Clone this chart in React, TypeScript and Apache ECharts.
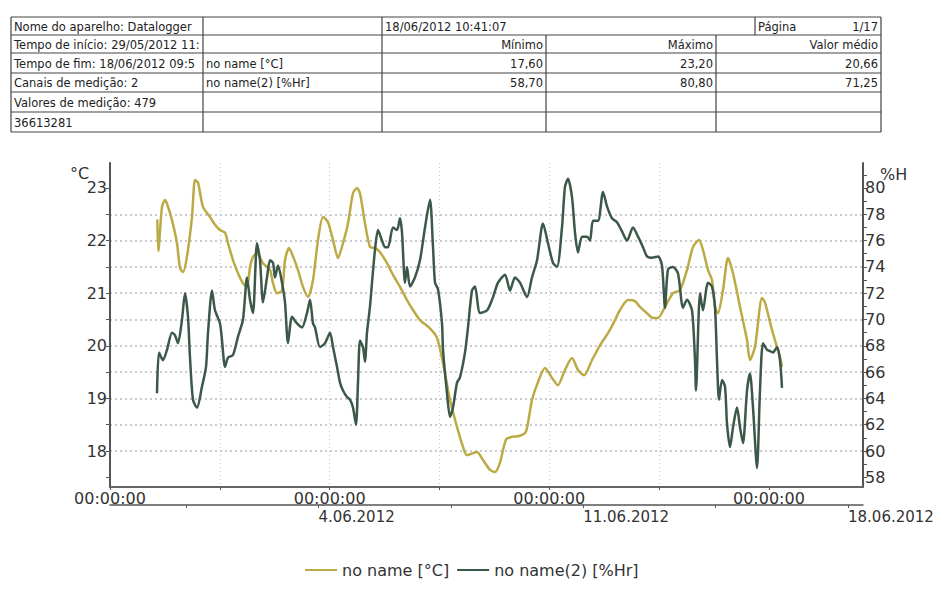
import React, { useEffect, useRef } from 'react';
import * as echarts from 'echarts';

// x values: days since 28.05.2012 00:00
const tempDays = [1.508, 1.54, 1.657, 1.753, 1.817, 1.976, 2.135, 2.231, 2.327, 2.454, 2.614, 2.709, 2.805, 2.964, 3.187, 3.347, 3.506, 3.665, 3.761, 3.92, 4.08, 4.239, 4.367, 4.462, 4.558, 4.685, 4.876, 5.1, 5.195, 5.323, 5.482, 5.578, 5.705, 5.833, 5.992, 6.151, 6.311, 6.47, 6.629, 6.789, 6.948, 7.108, 7.267, 7.426, 7.586, 7.745, 7.873, 7.968, 8.127, 8.287, 8.446, 8.606, 8.829, 9.02, 9.243, 9.466, 9.657, 9.88, 10.199, 10.422, 10.614, 10.837, 11.06, 11.251, 11.378, 11.697, 11.888, 12.112, 12.271, 12.43, 12.622, 12.813, 13.068, 13.259, 13.45, 13.641, 13.865, 14.088, 14.279, 14.47, 14.725, 14.916, 15.108, 15.363, 15.618, 15.873, 16.064, 16.255, 16.51, 16.733, 16.892, 17.116, 17.307, 17.466, 17.689, 17.944, 18.167, 18.39, 18.582, 18.773, 18.9, 19.06, 19.187, 19.283, 19.378, 19.538, 19.697, 19.857, 20.08, 20.303, 20.398, 20.558, 20.781, 20.876, 21.1, 21.259, 21.355, 21.418];
const tempValues = [22.4, 21.8, 22.64, 22.77, 22.7, 22.39, 21.95, 21.48, 21.4, 21.7, 22.45, 23.15, 23.1, 22.64, 22.45, 22.3, 22.2, 22.15, 21.95, 21.63, 21.38, 21.19, 21.12, 21.5, 21.69, 21.76, 21.57, 21.44, 21.19, 21.0, 21.05, 21.63, 21.86, 21.7, 21.44, 21.12, 20.93, 21.25, 22.01, 22.45, 22.35, 22.01, 21.67, 21.95, 22.33, 22.9, 23.0, 22.9, 22.33, 21.88, 21.86, 21.78, 21.57, 21.35, 21.12, 20.87, 20.68, 20.49, 20.33, 20.15, 19.67, 18.97, 18.46, 18.08, 17.92, 17.98, 17.83, 17.64, 17.6, 17.78, 18.22, 18.27, 18.29, 18.37, 18.97, 19.31, 19.58, 19.39, 19.25, 19.5, 19.77, 19.54, 19.44, 19.73, 20.01, 20.24, 20.45, 20.68, 20.87, 20.85, 20.74, 20.62, 20.53, 20.53, 20.74, 21.0, 21.06, 21.44, 21.88, 22.01, 21.82, 21.44, 21.25, 20.74, 20.62, 21.06, 21.67, 21.38, 20.74, 20.11, 19.73, 19.98, 20.91, 20.82, 20.3, 19.98, 19.79, 19.6];

const humDays = [1.498, 1.562, 1.689, 1.817, 1.976, 2.072, 2.167, 2.295, 2.39, 2.486, 2.55, 2.645, 2.773, 2.932, 3.06, 3.124, 3.251, 3.347, 3.506, 3.57, 3.665, 3.761, 3.92, 4.08, 4.239, 4.367, 4.462, 4.558, 4.685, 4.781, 4.876, 5.004, 5.1, 5.195, 5.259, 5.355, 5.482, 5.578, 5.673, 5.801, 5.96, 6.12, 6.279, 6.375, 6.47, 6.534, 6.693, 6.853, 7.012, 7.108, 7.235, 7.331, 7.426, 7.554, 7.649, 7.745, 7.841, 7.904, 7.968, 8.064, 8.127, 8.191, 8.287, 8.351, 8.446, 8.542, 8.669, 8.765, 8.861, 9.02, 9.147, 9.243, 9.307, 9.402, 9.466, 9.562, 9.721, 9.88, 10.04, 10.199, 10.295, 10.359, 10.454, 10.582, 10.614, 10.741, 10.837, 10.932, 11.06, 11.155, 11.315, 11.41, 11.538, 11.633, 11.793, 12.02, 12.207, 12.367, 12.59, 12.749, 12.908, 13.068, 13.291, 13.45, 13.61, 13.801, 13.96, 14.12, 14.247, 14.406, 14.502, 14.598, 14.725, 14.821, 14.916, 15.044, 15.203, 15.299, 15.394, 15.554, 15.713, 15.841, 16.0, 16.159, 16.319, 16.478, 16.669, 16.829, 16.988, 17.116, 17.275, 17.466, 17.594, 17.689, 17.785, 17.944, 18.104, 18.263, 18.39, 18.55, 18.645, 18.677, 18.805, 18.9, 19.06, 19.187, 19.283, 19.347, 19.41, 19.506, 19.602, 19.665, 19.761, 19.857, 19.984, 20.08, 20.175, 20.303, 20.398, 20.494, 20.622, 20.717, 20.813, 20.94, 21.036, 21.131, 21.259, 21.355, 21.418];
const humValues = [64.4, 67.5, 66.9, 67.7, 69.0, 68.8, 68.2, 70.0, 72.0, 70.2, 67.1, 63.9, 63.3, 64.9, 66.4, 69.0, 72.2, 70.7, 69.7, 68.4, 66.4, 67.1, 67.3, 68.7, 70.0, 73.2, 71.5, 70.5, 75.8, 74.5, 71.3, 73.2, 74.5, 74.3, 73.2, 74.1, 72.8, 71.3, 68.2, 70.2, 69.7, 69.4, 70.5, 71.5, 69.7, 69.4, 67.9, 68.2, 69.0, 67.9, 66.4, 65.2, 64.6, 64.1, 63.9, 63.3, 62.0, 65.2, 68.4, 67.9, 66.8, 69.0, 71.0, 72.8, 75.3, 76.8, 76.0, 75.5, 75.5, 77.0, 76.8, 77.7, 76.6, 72.8, 74.0, 72.5, 73.2, 74.5, 77.0, 79.1, 75.5, 72.8, 72.3, 69.7, 67.7, 64.4, 62.6, 63.3, 65.2, 65.6, 67.5, 69.4, 72.2, 72.5, 70.5, 70.7, 71.7, 72.8, 73.4, 72.2, 73.2, 72.8, 71.7, 73.2, 74.5, 77.3, 75.8, 74.3, 74.0, 77.0, 80.1, 80.7, 79.3, 76.6, 75.1, 76.3, 76.3, 76.0, 77.5, 77.5, 79.7, 78.6, 77.7, 77.4, 76.7, 76.0, 77.0, 76.3, 75.5, 74.8, 74.7, 74.8, 74.1, 70.9, 73.8, 74.0, 73.5, 70.9, 71.5, 70.7, 66.9, 64.6, 72.0, 70.7, 72.8, 72.5, 70.9, 66.9, 63.9, 65.4, 64.9, 62.1, 60.3, 61.8, 63.3, 61.8, 60.6, 64.6, 65.9, 63.3, 58.7, 64.6, 68.2, 67.7, 67.6, 67.5, 67.9, 66.9, 64.8];

const timeLabelDays = [0, 7, 14, 21];
const timeTickDays = [0, 3.5, 7, 10.5, 14, 17.5, 21];
const dateLabelDays = [7, 14, 21];
const dateTickDays = [3.5, 7, 10.5, 14, 17.5, 21];
const dateLabels = ['4.06.2012', '11.06.2012', '18.06.2012'];
const tempLabels = [18, 19, 20, 21, 22, 23];
const tempTicks = [17.5, 18, 18.5, 19, 19.5, 20, 20.5, 21, 21.5, 22, 22.5, 23];
const humLabels = [58, 60, 62, 64, 66, 68, 70, 72, 74, 76, 78, 80];
const humTicks = [58, 59, 60, 61, 62, 63, 64, 65, 66, 67, 68, 69, 70, 71, 72, 73, 74, 75, 76, 77, 78, 79, 80, 81];

const seriesNames = ['no name [°C]', 'no name(2) [%Hr]'];
const infoRows = ['Nome do aparelho: Datalogger', 'Tempo de início: 29/05/2012 11:', 'Tempo de fim: 18/06/2012 09:5', 'Canais de medição: 2', 'Valores de medição: 479', '36613281'];
const printDate = '18/06/2012 10:41:07';
const pageLabel = 'Página';
const pageNumber = '1/17';
const statHeaders = ['Mínimo', 'Máximo', 'Valor médio'];
const tempStats = ['17,60', '23,20', '20,66'];
const humStats = ['58,70', '80,80', '71,25'];

const FONT = '"DejaVu Sans", Arial, sans-serif';
const TEMP_COLOR = '#bcab45';
const HUM_COLOR = '#3c5848';
const AXIS_COLOR = '#555';
const LABEL_COLOR = '#333';

function buildTable() {
  const rowY = [17, 35, 53, 73, 92, 112, 132];
  const colX = [11, 203, 382, 546, 716, 881];
  const pageX = 755;
  const stroke = '#444';
  const els: any[] = [];
  const line = (x1: number, y1: number, x2: number, y2: number) =>
    els.push({ type: 'line', silent: true, shape: { x1, y1, x2, y2 }, style: { stroke, lineWidth: 1.2 } });
  rowY.forEach((y) => line(colX[0], y, colX[5], y));
  [colX[0], colX[1], colX[2], colX[5]].forEach((x) => line(x, rowY[0], x, rowY[6]));
  [colX[3], colX[4]].forEach((x) => line(x, rowY[1], x, rowY[6]));
  line(pageX, rowY[0], pageX, rowY[1]);
  const text = (t: string, x: number, y: number, align: string) =>
    els.push({
      type: 'text', silent: true, x, y,
      style: { text: t, fill: '#222', font: `11.5px ${FONT}`, textAlign: align, textVerticalAlign: 'middle' },
    });
  const mid = (i: number) => (rowY[i] + rowY[i + 1]) / 2 + 0.5;
  infoRows.forEach((t, i) => text(t, colX[0] + 3, mid(i), 'left'));
  text(printDate, colX[2] + 3, mid(0), 'left');
  text(pageLabel, pageX + 3, mid(0), 'left');
  text(pageNumber, colX[5] - 3, mid(0), 'right');
  text(seriesNames[0], colX[1] + 3, mid(2), 'left');
  text(seriesNames[1], colX[1] + 3, mid(3), 'left');
  const statCols = [colX[3], colX[4], colX[5]];
  statHeaders.forEach((t, i) => text(t, statCols[i] - 3, mid(1), 'right'));
  tempStats.forEach((t, i) => text(t, statCols[i] - 3, mid(2), 'right'));
  humStats.forEach((t, i) => text(t, statCols[i] - 3, mid(3), 'right'));
  return els;
}

export default function App() {
  const ref = useRef<HTMLDivElement>(null);
  useEffect(() => {
    document.body.style.margin = '0';
    const chart = echarts.init(ref.current!, null, { renderer: 'svg' });
    const labelStyle = { fontFamily: FONT, fontSize: 16, color: LABEL_COLOR };
    chart.setOption({
      animation: false,
      backgroundColor: '#fff',
      grid: { left: 110, right: 75, top: 163, bottom: 103, containLabel: false, outerBoundsMode: 'none' },
      legend: {
        left: 300, top: 557, itemWidth: 32, itemHeight: 2, itemGap: 8, icon: 'rect',
        textStyle: { fontFamily: FONT, fontSize: 16, color: LABEL_COLOR },
        data: seriesNames,
      },
      xAxis: [
        {
          type: 'value', position: 'bottom', min: 0, max: 24, interval: 7,
          axisLine: { show: true, onZero: false, lineStyle: { color: '#666', width: 2 } },
          axisTick: { show: true, customValues: timeTickDays, length: 3, lineStyle: { color: AXIS_COLOR } },
          axisLabel: { ...labelStyle, customValues: timeLabelDays, margin: 3, formatter: () => '00:00:00' },
          splitLine: { show: true, showMinLine: false, showMaxLine: false, lineStyle: { color: '#c8c8d0', type: [1, 3], width: 1 } },
        },
        {
          type: 'value', position: 'bottom', offset: 18, min: 1.491, max: 21.397,
          axisLine: { show: true, onZero: false, lineStyle: { color: AXIS_COLOR, width: 1.5 } },
          axisTick: { show: true, customValues: dateTickDays, length: 3, lineStyle: { color: AXIS_COLOR } },
          axisLabel: {
            ...labelStyle, fontSize: 15, customValues: dateLabelDays, margin: 4, align: 'left',
            formatter: (v: number) => dateLabels[dateLabelDays.indexOf(Math.round(v))] ?? '',
          },
          splitLine: { show: false },
        },
      ],
      yAxis: [
        {
          type: 'value', position: 'left', min: 17.316, max: 23.475, minInterval: 1, maxInterval: 1,
          axisLine: { show: true, lineStyle: { color: AXIS_COLOR, width: 2 } },
          axisTick: { show: true, customValues: tempTicks, length: 4, lineStyle: { color: AXIS_COLOR } },
          axisLabel: { ...labelStyle, customValues: tempLabels, margin: 3 },
          splitLine: { show: true, showMinLine: false, showMaxLine: false, lineStyle: { color: '#b8b8c0', type: [2, 3], width: 1.5 } },
        },
        {
          type: 'value', position: 'right', min: 57.264, max: 81.9, minInterval: 2, maxInterval: 2,
          axisLine: { show: true, lineStyle: { color: AXIS_COLOR, width: 2 } },
          axisTick: { show: true, customValues: humTicks, length: 4, lineStyle: { color: AXIS_COLOR } },
          axisLabel: { ...labelStyle, customValues: humLabels, margin: 2 },
          splitLine: { show: false },
        },
      ],
      series: [
        {
          name: seriesNames[0], type: 'line', xAxisIndex: 0, yAxisIndex: 0, symbol: 'none', smooth: 0.25,
          lineStyle: { color: TEMP_COLOR, width: 2.5 }, itemStyle: { color: TEMP_COLOR },
          data: tempDays.map((d, i) => [d, tempValues[i]]),
        },
        {
          name: seriesNames[1], type: 'line', xAxisIndex: 0, yAxisIndex: 1, symbol: 'none', smooth: 0.25,
          lineStyle: { color: HUM_COLOR, width: 2.5 }, itemStyle: { color: HUM_COLOR },
          data: humDays.map((d, i) => [d, humValues[i]]),
        },
      ],
      graphic: [
        ...buildTable(),
        { type: 'text', silent: true, x: 70, y: 165, style: { text: '°C', fill: LABEL_COLOR, font: `16px ${FONT}` } },
        { type: 'text', silent: true, x: 880, y: 166, style: { text: '%H', fill: LABEL_COLOR, font: `16px ${FONT}` } },
      ],
    });
    return () => chart.dispose();
  }, []);
  return <div ref={ref} style={{ width: 938, height: 590 }} />;
}
